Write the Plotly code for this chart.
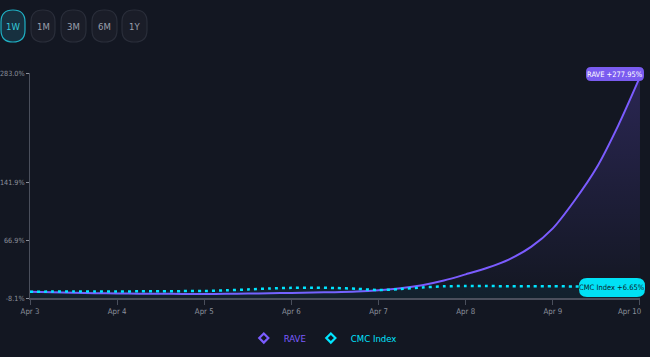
import plotly.graph_objects as go
import pandas as pd

# ---- data ----
timestamps = pd.date_range("2025-04-03 00:00", "2025-04-10 00:00", freq="6h")
rave_pct = [0, -0.5, -1.2, -1.8, -2.2, -2.5, -2.7, -2.8, -2.8, -2.7, -2.4, -2.0,
            -1.5, -1.0, -0.5, 0.4, 2.0, 4.5, 8.5, 14.5, 22.5, 31.0, 42.0, 58.0,
            82.0, 118.0, 160.0, 215.0, 277.95]
cmc_pct = [0, 0.2, 0.3, 0.3, 0.4, 0.5, 0.6, 0.8, 1.0, 1.8, 3.0, 4.2,
           5.0, 5.2, 4.8, 3.8, 2.2, 3.5, 5.5, 7.0, 7.4, 7.3, 7.2, 7.1,
           7.0, 6.9, 6.8, 6.7, 6.65]
y_ticks = [-8.1, 66.9, 141.9, 283.0]
y_tick_labels = ["-8.1%", "66.9%", "141.9%", "283.0%"]
x_tick_labels = ["Apr 3", "Apr 4", "Apr 5", "Apr 6", "Apr 7", "Apr 8", "Apr 9", "Apr 10"]
x_tick_vals = ["2025-04-03", "2025-04-04", "2025-04-05", "2025-04-06",
               "2025-04-07", "2025-04-08", "2025-04-09", "2025-04-10"]
range_buttons = ["1W", "1M", "3M", "6M", "1Y"]
series_names = ["RAVE", "CMC Index"]

BG = "#131722"
PURPLE = "#7b5cff"
CYAN = "#00e5ff"
GRAY = "#8b909c"
AXIS = "#4a4f5c"
FONT = "Liberation Sans Narrow, DejaVu Sans Condensed, Roboto, sans-serif"

W, H = 650, 357
L, R, T, B = 30, 10, 73, 59
PW, PH = W - L - R, H - T - B
ymin, ymax = -8.1, 283.0


def px_to_paper(px, py):
    return (px - L) / PW, (H - B - py) / PH


def rounded_path(x0, y0, x1, y1, r):
    def p(x, y):
        a, b = px_to_paper(x, y)
        return f"{a:.5f},{b:.5f}"
    return (f"M {p(x0 + r, y0)} L {p(x1 - r, y0)} Q {p(x1, y0)} {p(x1, y0 + r)} "
            f"L {p(x1, y1 - r)} Q {p(x1, y1)} {p(x1 - r, y1)} L {p(x0 + r, y1)} "
            f"Q {p(x0, y1)} {p(x0, y1 - r)} L {p(x0, y0 + r)} Q {p(x0, y0)} {p(x0 + r, y0)} Z")


fig = go.Figure()

# baseline for fills
fig.add_trace(go.Scatter(x=timestamps, y=[ymin] * len(timestamps), mode="lines",
                         line=dict(width=0), showlegend=False, hoverinfo="skip"))
fig.add_trace(go.Scatter(x=timestamps, y=rave_pct, mode="lines", name=series_names[0],
                         line=dict(color=PURPLE, width=2, shape="spline", smoothing=0.8),
                         fill="tonexty",
                         fillgradient=dict(type="vertical",
                                           colorscale=[[0, "rgba(123,92,255,0.0)"],
                                                       [1, "rgba(123,92,255,0.22)"]]),
                         showlegend=False))
fig.add_trace(go.Scatter(x=timestamps, y=[ymin] * len(timestamps), mode="lines",
                         line=dict(width=0), showlegend=False, hoverinfo="skip"))
fig.add_trace(go.Scatter(x=timestamps, y=cmc_pct, mode="lines", name=series_names[1],
                         line=dict(color=CYAN, width=2.5, dash="3px,4px", shape="spline", smoothing=0.8),
                         fill="tonexty", fillcolor="rgba(0,229,255,0.05)",
                         showlegend=False))

# legend entries
fig.add_trace(go.Scatter(x=[None], y=[None], mode="markers",
                         name=f"<span style='color:{PURPLE}'>{series_names[0]}</span>",
                         marker=dict(symbol="diamond-open", size=7, color=PURPLE, line=dict(width=2.2))))
fig.add_trace(go.Scatter(x=[None], y=[None], mode="markers",
                         name=f"<span style='color:{CYAN}'>{series_names[1]}</span>",
                         marker=dict(symbol="diamond-open", size=7, color=CYAN, line=dict(width=2.2))))

shapes = []
annotations = []

# range buttons
btn_x = [(1, 25), (31, 55), (61, 86), (92, 117), (122, 147)]
for i, (lbl, (bx0, bx1)) in enumerate(zip(range_buttons, btn_x)):
    sel = i == 0
    shapes.append(dict(type="path", xref="paper", yref="paper",
                       path=rounded_path(bx0, 10, bx1, 42, 12),
                       fillcolor="#17303f" if sel else "#1a1d28",
                       line=dict(color="#1fb0c4" if sel else "#2a2e3a", width=1.2), layer="above"))
    cx, cy = px_to_paper((bx0 + bx1) / 2, 26)
    annotations.append(dict(x=cx, y=cy, xref="paper", yref="paper", text=lbl, showarrow=False,
                            font=dict(family=FONT, size=9.5, color="#35c9da" if sel else "#9aa0ad"),
                            xanchor="center", yanchor="middle"))

# end badges
shapes.append(dict(type="path", xref="paper", yref="paper",
                   path=rounded_path(586, 67, 644, 81, 5), fillcolor="#7a5cf0",
                   line=dict(width=0), layer="above"))
bx, by = px_to_paper(615, 74)
annotations.append(dict(x=bx, y=by, xref="paper", yref="paper",
                        text=f"{series_names[0]} +{rave_pct[-1]:.2f}%", showarrow=False,
                        font=dict(family=FONT, size=7.5, color="#ffffff"),
                        xanchor="center", yanchor="middle"))
shapes.append(dict(type="path", xref="paper", yref="paper",
                   path=rounded_path(579, 278, 645, 297, 8), fillcolor="#00e1f5",
                   line=dict(width=0), layer="above"))
bx, by = px_to_paper(612, 287.5)
annotations.append(dict(x=bx, y=by, xref="paper", yref="paper",
                        text=f"{series_names[1]} +{cmc_pct[-1]:.2f}%", showarrow=False,
                        font=dict(family=FONT, size=7.5, color="#0d1b2a"),
                        xanchor="center", yanchor="middle"))

# last x tick label, right-aligned so that it stays inside the page
lx, ly = px_to_paper(643, 311)
annotations.append(dict(x=lx, y=ly, xref="paper", yref="paper", text=x_tick_labels[-1],
                        showarrow=False, xanchor="right", yanchor="middle",
                        font=dict(family=FONT, size=7.8, color=GRAY)))

fig.update_layout(
    width=W, height=H,
    margin=dict(l=L, r=R, t=T, b=B, autoexpand=False),
    paper_bgcolor=BG, plot_bgcolor=BG,
    font=dict(family=FONT, size=9, color=GRAY),
    shapes=shapes, annotations=annotations,
    legend=dict(orientation="h", x=0.48, y=-0.178, xanchor="center", yanchor="middle",
                font=dict(family=FONT, size=9.5), itemwidth=30, bgcolor="rgba(0,0,0,0)",
                traceorder="normal", itemclick=False, tracegroupgap=0),
    xaxis=dict(range=["2025-04-03 00:00:00", "2025-04-10 00:00:30"],
               tickvals=x_tick_vals, ticktext=x_tick_labels[:-1] + [""],
               showgrid=False, zeroline=False, showline=True, linecolor=AXIS, linewidth=2,
               ticks="outside", ticklen=5, tickcolor=AXIS, tickwidth=1, automargin=False,
               tickfont=dict(family=FONT, size=7.8, color=GRAY)),
    yaxis=dict(range=[ymin, ymax], tickvals=y_ticks, ticktext=y_tick_labels,
               showgrid=False, zeroline=False, showline=True, linecolor=AXIS, linewidth=1,
               ticks="outside", ticklen=3, tickcolor=GRAY, tickwidth=1, automargin=False,
               tickfont=dict(family=FONT, size=7.2, color=GRAY)),
    showlegend=True,
)

fig.write_html("out.html", config={"displayModeBar": False},
               post_script="document.body.style.margin='0';document.body.style.background='#131722';")
